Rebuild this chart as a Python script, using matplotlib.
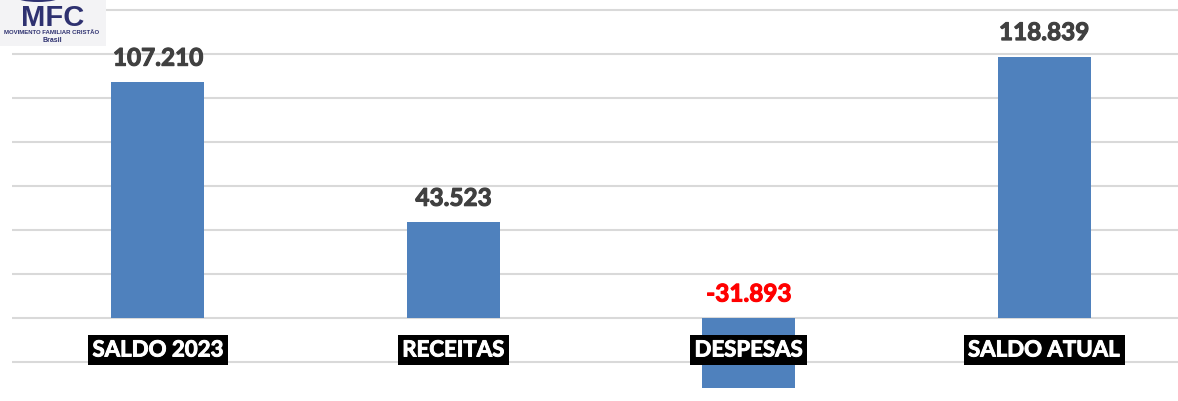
import matplotlib.pyplot as plt
import matplotlib.patheffects as pe
from matplotlib.patches import Ellipse

# dados do grafico
categorias = ["SALDO 2023", "RECEITAS", "DESPESAS", "SALDO ATUAL"]
valores = [107210, 43523, -31893, 118839]
rotulos = ["107.210", "43.523", "-31.893", "118.839"]

W, H = 1178, 401
fig = plt.figure(figsize=(W / 100, H / 100), dpi=100)

# eixo um pouco maior que a figura (cortado a direita, como no original)
ax = fig.add_axes([12 / W, 0, 1178 / W, 1])
x = list(range(len(categorias)))
ax.bar(x, valores, width=0.315, color="#4f81bd", zorder=2)

ax.set_xlim(-0.494, 3.494)
ax.set_ylim(-37727, 144545)
ax.set_yticks(range(-20000, 140001, 20000))
ax.grid(axis="y", color="#d9d9d9", linewidth=1.5, zorder=0)
ax.tick_params(left=False, bottom=False, labelleft=False, labelbottom=False)
for s in ax.spines.values():
    s.set_visible(False)

fonte = "Lato"
for i, v in enumerate(valores):
    topo = max(v, 0)
    cor = "#ff0000" if v < 0 else "#404040"
    t = ax.annotate(rotulos[i], (i, topo), xytext=(0, 9), textcoords="offset points",
                    ha="center", va="bottom", fontsize=17.5, fontweight="bold",
                    color=cor, family=fonte, zorder=4)
    t.set_path_effects([pe.withStroke(linewidth=0.8, foreground=cor)])
    c = ax.text(i, -14545, categorias[i], ha="center", va="center", fontsize=16,
                fontweight="bold", color="white", family=fonte, zorder=5,
                bbox=dict(boxstyle="square,pad=0.2", facecolor="black", edgecolor="none"))
    c.set_path_effects([pe.withStroke(linewidth=0.7, foreground="white")])

# logo MFC
fig.patches.append(plt.Rectangle((0, 1 - 46 / H), 106 / W, 46 / H, transform=fig.transFigure,
                                 facecolor="#f3f3f5", edgecolor="none", zorder=6))
fig.patches.append(Ellipse((38 / W, 1 + 3 / H), 44 / W, 10 / H, transform=fig.transFigure,
                           facecolor="#2e3170", edgecolor="none", zorder=7))
fig.text(53 / W, 1 - 18 / H, "MFC", ha="center", va="center", fontsize=21,
         fontweight="bold", color="#2e3170", family="Liberation Sans", zorder=8)
fig.text(52 / W, 1 - 33 / H, "MOVIMENTO FAMILIAR CRISTÃO", ha="center", va="center",
         fontsize=4.3, fontweight="bold", color="#2e3170", family="Liberation Sans", zorder=8)
fig.text(52 / W, 1 - 41 / H, "Brasil", ha="center", va="center", fontsize=5,
         fontweight="bold", color="#2e3170", family="Liberation Sans", zorder=8)

fig.savefig("out.png", dpi=100)
